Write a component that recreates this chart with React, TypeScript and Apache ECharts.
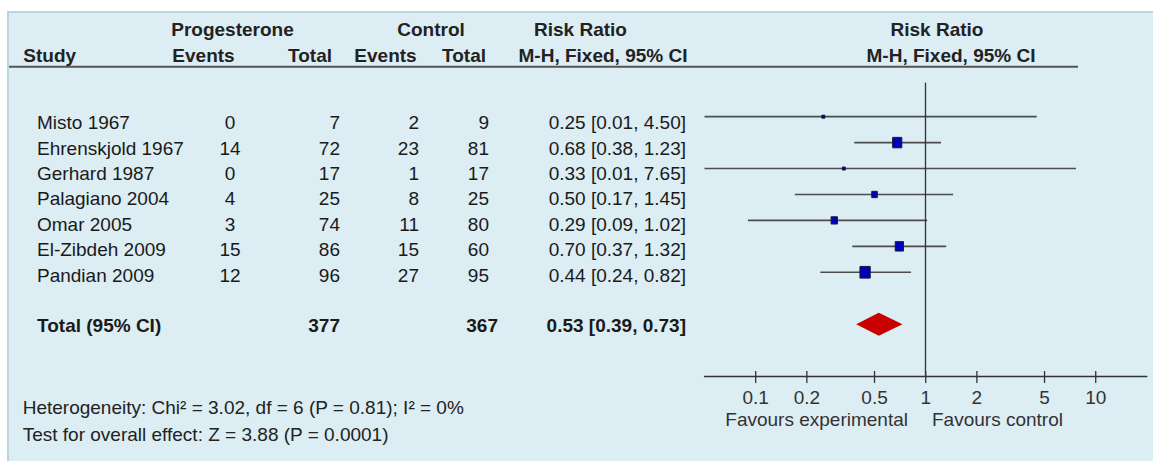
import React, { useEffect, useRef } from "react";
import * as echarts from "echarts";

// ---------- data ----------
const studies = [
  "Misto 1967",
  "Ehrenskjold 1967",
  "Gerhard 1987",
  "Palagiano 2004",
  "Omar 2005",
  "El-Zibdeh 2009",
  "Pandian 2009",
];
const progEvents = [0, 14, 0, 4, 3, 15, 12];
const progTotal = [7, 72, 17, 25, 74, 86, 96];
const ctrlEvents = [2, 23, 1, 8, 11, 15, 27];
const ctrlTotal = [9, 81, 17, 25, 80, 60, 95];
const riskRatio = [0.25, 0.68, 0.33, 0.5, 0.29, 0.7, 0.44];
const ciLow = [0.01, 0.38, 0.01, 0.17, 0.09, 0.37, 0.24];
const ciHigh = [4.5, 1.23, 7.65, 1.45, 1.02, 1.32, 0.82];
// study weights (%), encoded in the picture as box sizes
const weights = [2.0, 24.7, 1.1, 9.1, 12.0, 20.1, 30.9];

const totalLabel = "Total (95% CI)";
const totalProg = [377];
const totalCtrl = [367];
const totalRR = [0.53];
const totalLow = [0.39];
const totalHigh = [0.73];

const tickValues = [0.1, 0.2, 0.5, 1, 2, 5, 10];
const tickLabels = ["0.1", "0.2", "0.5", "1", "2", "5", "10"];

const heterogeneityText = "Heterogeneity: Chi² = 3.02, df = 6 (P = 0.81); I² = 0%";
const overallText = "Test for overall effect: Z = 3.88 (P = 0.0001)";
const favoursLeft = "Favours experimental";
const favoursRight = "Favours control";

// ---------- layout / style ----------
const FAMILY = '"Liberation Sans", Arial, Helvetica, sans-serif';
const FS = 19;
const font = (bold?: boolean) => `${bold ? "bold " : ""}${FS}px ${FAMILY}`;
const TEXT = "#1a1a1a";
const HEAD = "#222222";
const AXIS = "#333333";

const X_MIN = 0.05;
const X_MAX = 20;
const GRID = { left: 704.5, top: 82.7, width: 442.4, height: 293.3 };
const PLOT_Y = { min: -1.31, max: 10 };
const TEXT_Y = { min: -1.575, max: 9.972 };
const TOTAL_ROW = 8;

const COL = {
  name: 37,
  progEv: 230,
  progTot: 340,
  ctrlEv: 419,
  ctrlTot: 489,
  ctrlTotBold: 498,
  rr: 686,
};

const rrText = (rr: number, lo: number, hi: number) =>
  `${rr.toFixed(2)} [${lo.toFixed(2)}, ${hi.toFixed(2)}]`;

const T = (
  text: string,
  x: number,
  y: number,
  align: string,
  bold = false,
  color = TEXT
) => ({
  type: "text",
  x,
  y,
  silent: true,
  style: {
    text,
    textAlign: align,
    textVerticalAlign: "middle",
    font: font(bold),
    fill: color,
  },
});

function buildOption(): any {
  const tableData = studies.map((_, i) => [1, i]).concat([[1, TOTAL_ROW]]);
  const ciData = riskRatio.map((rr, i) => [rr, i, ciLow[i], ciHigh[i], weights[i]]);
  const totalData = totalRR.map((rr, i) => [rr, TOTAL_ROW, totalLow[i], totalHigh[i]]);
  const tickData = tickValues.map((v) => [v, PLOT_Y.max]);

  return {
    animation: false,
    backgroundColor: "#ffffff",
    grid: { ...GRID, containLabel: false },
    xAxis: {
      type: "log",
      logBase: 10,
      min: X_MIN,
      max: X_MAX,
      axisLine: { show: true, onZero: false, lineStyle: { color: AXIS, width: 1.3 } },
      axisTick: { show: false },
      axisLabel: { show: false },
      splitLine: { show: false },
    },
    yAxis: [
      {
        type: "value",
        inverse: true,
        min: PLOT_Y.min,
        max: PLOT_Y.max,
        show: false,
      },
      {
        type: "value",
        inverse: true,
        min: TEXT_Y.min,
        max: TEXT_Y.max,
        show: false,
      },
    ],
    graphic: [
      {
        type: "rect",
        z: -100,
        silent: true,
        shape: { x: 8, y: 12, width: 1160, height: 470 },
        style: { fill: "#dcedf3", stroke: "#b7d6e2", lineWidth: 2 },
      },
      {
        type: "line",
        silent: true,
        shape: { x1: 9, y1: 66.7, x2: 1078, y2: 66.7 },
        style: { stroke: "#555555", lineWidth: 2 },
      },
      T("Progesterone", 232.5, 29.5, "center", true, HEAD),
      T("Control", 431, 29.5, "center", true, HEAD),
      T("Risk Ratio", 580.5, 29.5, "center", true, HEAD),
      T("Risk Ratio", 937, 29.5, "center", true, HEAD),
      T("Study", 23.3, 55, "left", true, HEAD),
      T("Events", 203.5, 55, "center", true, HEAD),
      T("Total", 332, 55, "right", true, HEAD),
      T("Events", 385.5, 55, "center", true, HEAD),
      T("Total", 486, 55, "right", true, HEAD),
      T("M-H, Fixed, 95% CI", 603, 55, "center", true, HEAD),
      T("M-H, Fixed, 95% CI", 951, 55, "center", true, HEAD),
      T(favoursLeft, 908, 419, "right", false, AXIS),
      T(favoursRight, 932, 419, "left", false, AXIS),
      T(heterogeneityText, 22.7, 407, "left", false, HEAD),
      T(overallText, 22.7, 434.5, "left", false, HEAD),
    ],
    series: [
      {
        type: "custom",
        name: "table",
        xAxisIndex: 0,
        yAxisIndex: 1,
        silent: true,
        data: tableData,
        encode: { x: 0, y: 1 },
        renderItem: (params: any, api: any) => {
          const i = params.dataIndex;
          const y = api.coord([1, api.value(1)])[1];
          if (i < studies.length) {
            return {
              type: "group",
              children: [
                T(studies[i], COL.name, y, "left"),
                T(String(progEvents[i]), COL.progEv, y, "center"),
                T(String(progTotal[i]), COL.progTot, y, "right"),
                T(String(ctrlEvents[i]), COL.ctrlEv, y, "right"),
                T(String(ctrlTotal[i]), COL.ctrlTot, y, "right"),
                T(rrText(riskRatio[i], ciLow[i], ciHigh[i]), COL.rr, y, "right"),
              ],
            };
          }
          return {
            type: "group",
            children: [
              T(totalLabel, COL.name, y, "left", true),
              T(String(totalProg[0]), COL.progTot, y, "right", true),
              T(String(totalCtrl[0]), COL.ctrlTotBold, y, "right", true),
              T(rrText(totalRR[0], totalLow[0], totalHigh[0]), COL.rr, y, "right", true),
            ],
          };
        },
      },
      {
        type: "custom",
        name: "studies",
        xAxisIndex: 0,
        yAxisIndex: 0,
        silent: true,
        z: 3,
        data: ciData,
        encode: { x: 0, y: 1 },
        renderItem: (params: any, api: any) => {
          const row = api.value(1);
          const rr = api.value(0);
          const lo = Math.max(api.value(2), X_MIN);
          const hi = Math.min(api.value(3), X_MAX);
          const w = api.value(4);
          const p1 = api.coord([lo, row]);
          const p2 = api.coord([hi, row]);
          const c = api.coord([rr, row]);
          const bw = Math.max(3, 1.85 * Math.sqrt(w));
          const bh = Math.max(3, 2.1 * Math.sqrt(w));
          return {
            type: "group",
            children: [
              {
                type: "line",
                shape: { x1: p1[0], y1: p1[1], x2: p2[0], y2: p2[1] },
                style: { stroke: "#4d4d4d", lineWidth: 1.6 },
              },
              {
                type: "rect",
                shape: { x: c[0] - bw / 2, y: c[1] - bh / 2, width: bw, height: bh },
                style: { fill: "#0000b4", stroke: "#1a1a3a", lineWidth: 1 },
              },
            ],
          };
        },
        markLine: {
          silent: true,
          symbol: ["none", "none"],
          label: { show: false },
          lineStyle: { color: AXIS, width: 1.3, type: "solid" },
          data: [{ xAxis: 1 }],
        },
      },
      {
        type: "custom",
        name: "total",
        xAxisIndex: 0,
        yAxisIndex: 0,
        silent: true,
        z: 3,
        data: totalData,
        encode: { x: 0, y: 1 },
        renderItem: (params: any, api: any) => {
          const row = api.value(1);
          const c = api.coord([api.value(0), row]);
          const l = api.coord([api.value(2), row]);
          const r = api.coord([api.value(3), row]);
          const hh = 11.5;
          return {
            type: "polygon",
            shape: {
              points: [
                [l[0], c[1]],
                [c[0], c[1] - hh],
                [r[0], c[1]],
                [c[0], c[1] + hh],
              ],
            },
            style: { fill: "#c80000" },
          };
        },
      },
      {
        type: "custom",
        name: "ticks",
        xAxisIndex: 0,
        yAxisIndex: 0,
        silent: true,
        z: 3,
        data: tickData,
        encode: { x: 0, y: 1 },
        renderItem: (params: any, api: any) => {
          const p = api.coord([api.value(0), api.value(1)]);
          return {
            type: "group",
            children: [
              {
                type: "line",
                shape: { x1: p[0], y1: p[1] - 5, x2: p[0], y2: p[1] + 7 },
                style: { stroke: AXIS, lineWidth: 1.3 },
              },
              T(tickLabels[params.dataIndex], p[0], p[1] + 21, "center", false, AXIS),
            ],
          };
        },
      },
    ],
  };
}

export default function App() {
  const ref = useRef<HTMLDivElement>(null);
  useEffect(() => {
    if (!ref.current) return;
    const chart = echarts.init(ref.current, null, { renderer: "svg" });
    chart.setOption(buildOption());
    return () => chart.dispose();
  }, []);
  return (
    <div
      ref={ref}
      style={{ position: "absolute", left: 0, top: 0, width: 1153, height: 461 }}
    />
  );
}
